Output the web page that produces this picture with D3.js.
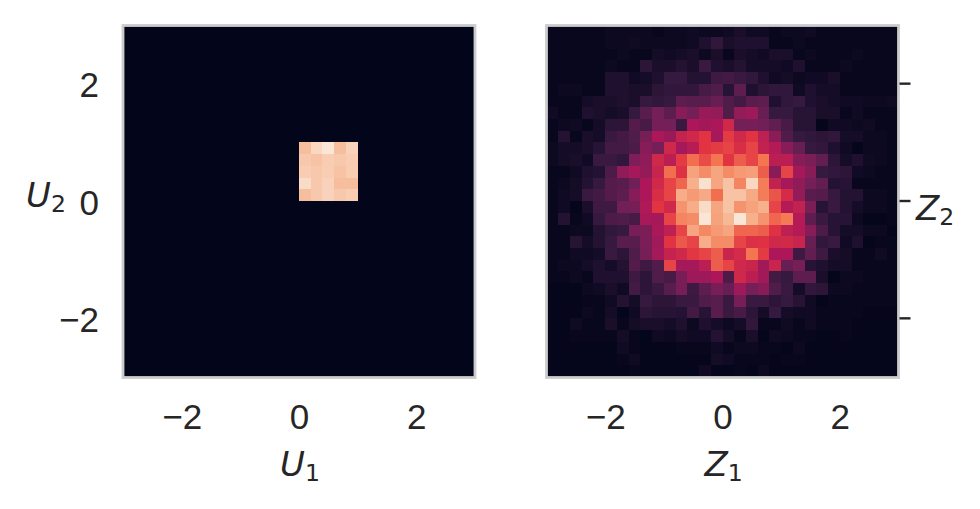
<!DOCTYPE html>
<html><head><meta charset="utf-8">
<script src="https://cdn.jsdelivr.net/npm/d3@7"></script>
<style>html,body{margin:0;padding:0;background:#fff}svg{display:block}</style>
</head><body><svg id="c" width="980" height="509"></svg>
<script>
const xTicks = [-2, 0, 2];
const yTicks = [-2, 0, 2];
const binCount = 30;
// Colour intensity (0-100) per bin, rows top to bottom; left panel non-empty block
const uBlockStartCol = 15, uBlockStartRow = 10;
const uValues = [
 [91,96,99,91,95],
 [93,92,94,93,94],
 [94,93,94,92,94],
 [97,93,95,91,91],
 [91,93,95,93,94]
];
const zValues = [
 [1,1,1,1,1,2,2,2,2,1,2,2,3,2,2,3,5,3,3,1,2,2,3,1,1,1,1,1,1,1],
 [1,1,1,1,1,2,2,3,2,2,2,2,3,6,10,5,6,6,6,1,1,2,1,1,1,1,1,1,1,1],
 [1,1,1,1,1,1,2,1,1,4,3,4,5,2,5,1,5,4,3,5,5,1,2,1,1,1,2,1,1,1],
 [1,1,1,1,1,2,1,1,9,5,5,7,5,12,6,5,7,4,4,4,3,6,1,1,1,2,1,1,1,1],
 [1,1,1,1,1,6,6,3,4,6,11,11,7,7,13,14,12,10,6,3,4,2,3,3,5,1,1,1,1,1],
 [1,2,2,1,1,6,6,5,5,9,10,10,10,15,17,8,20,6,9,10,10,3,6,4,4,1,1,1,1,1],
 [1,1,1,4,5,5,6,5,11,10,11,20,19,19,22,17,14,19,20,6,10,11,6,5,4,3,3,2,2,3],
 [3,1,1,6,5,4,5,11,19,25,20,30,25,35,33,17,33,36,22,11,11,8,8,5,5,1,3,1,1,1],
 [1,2,3,1,4,9,9,18,15,25,25,12,40,37,40,50,25,26,24,21,15,8,8,0.5,3,3,2,3,1,1],
 [1,7,1,5,4,12,14,17,26,40,35,47,50,56,38,58,50,56,45,31,17,11,10,9,10,4,4,2,2,1],
 [2,4,4,5,8,14,14,16,30,25,50,38,43,56,58,60,53,60,46,42,30,22,11,10,6,3,0.5,2,2,1],
 [2,4,5,3,12,12,10,28,32,50,44,58,70,62,72,56,66,60,72,44,44,30,27,21,9,4,6,3,2,1],
 [1,1,3,6,7,16,32,38,33,48,70,55,84,78,85,78,82,83,66,30,60,38,30,11,10,9,3,2,1,1],
 [1,2,4,7,11,18,19,24,40,50,60,68,88,98,85,92,76,96,74,46,38,32,25,21,7,8,1,1,1,1],
 [1,3,4,12,14,18,20,30,40,53,60,87,82,86,70,92,92,86,74,64,52,33,19,18,11,7,7,2,2,1],
 [1,3,0.5,5,13,13,24,26,41,56,50,80,87,97,85,92,80,84,88,60,42,46,27,8,12,7,4,2,2,1],
 [1,7,1,3,11,16,17,15,39,38,60,76,78,99,84,90,99,88,80,68,73,42,20,12,8,8,2,0.5,0.5,1],
 [1,1,2,2,7,10,11,26,27,39,45,60,85,77,82,85,68,68,66,55,45,42,30,16,8,4,4,2,2,0.5],
 [1,1,8,4,7,11,19,19,27,37,56,65,60,87,78,78,60,54,55,50,51,48,22,10,12,3,6,0.5,1,1],
 [1,1,3,3,4,12,9,17,26,38,47,50,57,60,66,48,52,72,58,40,40,13,21,13,5,4,1,1,3,1],
 [1,2,2,4,6,4,7,18,13,17,60,38,38,44,66,60,50,48,37,48,22,26,8,6,4,4,1,1,1,1],
 [1,1,2,1,6,6,6,13,9,17,15,26,36,36,40,16,50,44,37,14,11,20,20,5,0.5,2,2,1,1,1],
 [0.5,0.5,0.5,2,3,5,3,14,9,12,19,26,13,20,26,22,36,25,30,17,12,4,10,9,2,2,1,1,1,1],
 [0.5,0.5,0.5,1,1,3,7,4,11,9,9,12,12,17,19,12,26,12,12,9,11,8,3,0.5,1,1,1,1,1,1],
 [0.5,0.5,0.5,2,1,4,0.3,3,9,8,8,7,14,8,19,12,15,9,4,11,4,3,3,1,1,1,1,0.5,0.5,0.5],
 [0.5,0.5,3,1,1,5,1,4,5,5,4,6,2,6,4,2,4,10,1,1,3,1,3,1,1,1,0.5,0.5,0.5,0.5],
 [0.5,0.5,1,1,1,1,4,1,0.3,3,2,4,3,3,7,4,1,5,0.5,3,2,1,1,0.5,0.5,1,0.5,0.5,0.5,0.5],
 [0.5,0.5,0.5,0.5,0.5,0.5,3,1,0.5,0.5,0.5,1,1,1,3,1,2,2,1,1,0.5,2,0.5,0.5,0.5,0.5,0.5,0.5,0.5,0.5],
 [0.5,0.5,0.5,0.5,0.5,0.5,1,3,0.5,0.5,0.5,0.5,0.5,0.5,4,3,1,1,1,0.5,1,1,0.5,0.5,0.5,0.5,0.5,0.5,0.5,0.5],
 [0.5,0.5,0.5,0.5,0.5,0.5,0.5,1,0.5,0.5,0.5,0.5,0.5,3,0.5,0.5,1,0.5,2,0.5,0.5,0.5,0.5,0.5,0.5,0.5,0.5,0.5,0.5,0.5]
];
const rocketStops = [0, 11, 24, 40, 56, 72, 89, 100];
const rocketColors = ["#03051a","#35193e","#701f57","#ad1759","#e13342","#f37651","#f6b48f","#faebdd"];

const color = d3.scaleLinear().domain(rocketStops).range(rocketColors).interpolate(d3.interpolateRgb);
const svg = d3.select("#c");
const size = 352, plotTop = 25.5;
const panels = [
 {left:123, name:"U"},
 {left:546.5, name:"Z"}
];
const mono = '"Liberation Sans", Arial, sans-serif';
const math = '"DejaVu Sans", sans-serif';
const ink = "#262626";

function label(g, x, y, letter, sub, anchor) {
  const t = g.append("text").attr("x", x).attr("y", y).attr("font-family", math)
    .attr("font-size", 34).attr("fill", ink).attr("text-anchor", anchor);
  t.append("tspan").attr("font-style","italic").text(letter);
  t.append("tspan").attr("dy", 5).attr("font-size", 23.5).text(sub);
}

panels.forEach((p, pi) => {
  const x = d3.scaleLinear().domain([-3,3]).range([p.left, p.left+size]);
  const y = d3.scaleLinear().domain([-3,3]).range([plotTop+size, plotTop]);
  const band = d3.scaleBand().domain(d3.range(binCount)).range([0,size]);
  const g = svg.append("g");
  const grid = pi === 0
    ? d3.range(binCount).map(r => d3.range(binCount).map(c => {
        const rr = r-uBlockStartRow, cc = c-uBlockStartCol;
        return (uValues[rr] && uValues[rr][cc] !== undefined) ? uValues[rr][cc] : 0;
      }))
    : zValues;
  g.append("g").attr("shape-rendering","crispEdges")
   .selectAll("g").data(grid).join("g")
   .attr("transform",(d,i)=>`translate(${p.left},${plotTop+band(i)})`)
   .selectAll("rect").data(d=>d).join("rect")
   .attr("x",(d,i)=>band(i)).attr("y",-0.4)
   .attr("width",band.bandwidth()+0.2).attr("height",band.bandwidth()+0.2)
   .attr("fill",d=>color(d));
  g.append("rect").attr("x",p.left).attr("y",plotTop).attr("width",size).attr("height",size)
   .attr("fill","none").attr("stroke","#cccccc").attr("stroke-width",2.8);

  const xAxis = d3.axisBottom(x).tickValues(xTicks).tickSize(0).tickPadding(0).tickFormat(d=>d<0?"\u2212"+(-d):d);
  const xg = g.append("g").attr("transform",`translate(0,${plotTop+size+25.8})`).call(xAxis);
  xg.select(".domain").remove();
  xg.selectAll("text").attr("font-family",mono).attr("font-size",35).attr("fill",ink).attr("dy","0.72em");
  label(g, x(0)+1, 476, p.name, "1", "middle");

  if (pi === 0) {
    const yAxis = d3.axisLeft(y).tickValues(yTicks).tickSize(0).tickPadding(0).tickFormat(d=>d<0?"\u2212"+(-d):d);
    const yg = g.append("g").attr("transform",`translate(${p.left-24},0)`).call(yAxis);
    yg.select(".domain").remove();
    yg.selectAll("text").attr("font-family",mono).attr("font-size",35).attr("fill",ink).attr("dy","0.36em");
    label(g, 26, 206.5, p.name, "2", "start");
  } else {
    const yAxis = d3.axisRight(y).offset(0).tickValues(yTicks).tickSize(11).tickFormat("");
    const yg = g.append("g").attr("transform",`translate(${p.left+size+1},-0.5)`).call(yAxis);
    yg.select(".domain").remove();
    yg.selectAll("line").attr("stroke",ink).attr("stroke-width",2.4);
    label(g, 916, 219.5, p.name, "2", "start");
  }
});
</script></body></html>
